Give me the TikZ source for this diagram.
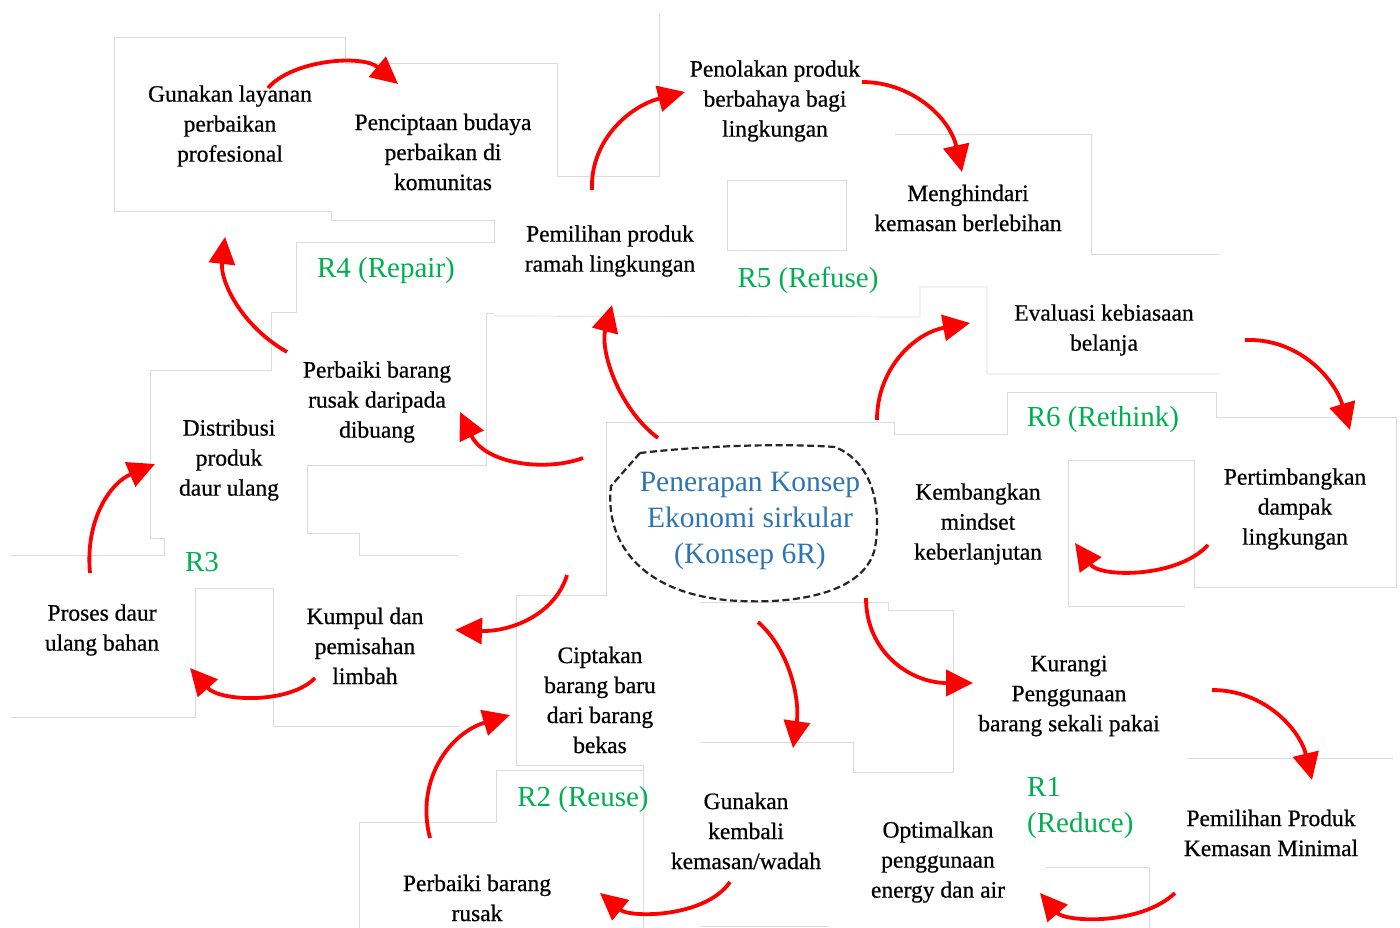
\documentclass[tikz,border=0pt]{standalone}
\usepackage{fontspec}
\setmainfont{Liberation Serif}
\newfontfamily\heavyserif{Liberation Serif}[FakeBold=0.6]
\usetikzlibrary{arrows.meta}
\definecolor{rgreen}{HTML}{00B050}
\definecolor{cblue}{HTML}{2E75B6}
\begin{document}
\begin{tikzpicture}[x=1pt,y=-1pt,
  txt/.style={align=center, font=\heavyserif\fontsize{23.5}{30}\selectfont, inner sep=0pt},
  rlab/.style={text=rgreen, font=\fontsize{29}{36}\selectfont, inner sep=0pt, align=left},
  ctr/.style={text=cblue, align=center, font=\fontsize{29.5}{36}\selectfont, inner sep=0pt},
  rarrow/.style={draw=red, line width=3.8pt, -{Triangle[length=27pt,width=26pt]}},
  ghost/.style={draw=black!14, line width=0.7pt},
  blob/.style={draw=black!85, line width=2.2pt, dash pattern=on 7pt off 3.5pt}]
\useasboundingbox (0,0) rectangle (1400,928);
\fill[white] (0,0) rectangle (1400,928);

% faint box outlines
\draw[ghost] (114,211) -- (114,37) -- (345,37) -- (345,63) -- (557,63) -- (557,176) -- (659,176) -- (659,14);
\draw[ghost] (114,211) -- (331,211) -- (331,220) -- (494,220) -- (494,242) -- (296,242) -- (296,312) -- (271,312) -- (271,370) -- (150,370) -- (150,538) -- (164,538) -- (164,555) -- (11,555);
\draw[ghost] (494,313) -- (486,313) -- (486,465) -- (307,465) -- (307,533) -- (359,533) -- (359,555) -- (458,555);
\draw[ghost] (494,316) -- (920,317) -- (920,287) -- (987,287) -- (987,374) -- (1220,374);
\draw[ghost] (727,180) rectangle (846,250);
\draw[ghost] (895,134) -- (1091,134) -- (1091,254) -- (1220,254);
\draw[ghost] (516,765) -- (516,595) -- (606,595) -- (606,422) -- (894,422) -- (894,434) -- (1007,434) -- (1007,392) -- (1216,392) -- (1216,417) -- (1396,417) -- (1396,587) -- (1194,587) -- (1194,460) -- (1068,460) -- (1068,606) -- (1185,606);
\draw[ghost] (700,602) -- (888,602) -- (888,610) -- (953,610) -- (953,772) -- (853,772) -- (853,742) -- (700,742);
\draw[ghost] (516,765) -- (643,765) -- (643,928);
\draw[ghost] (359,928) -- (359,822) -- (496,822) -- (496,770) -- (643,770);
\draw[ghost] (11,717) -- (195,717) -- (195,588) -- (273,588) -- (273,726) -- (460,726);
\draw[ghost] (700,926) -- (829,926);
\draw[ghost] (1046,867) -- (1149,867) -- (1149,928);
\draw[ghost] (1187,758) -- (1393,758);

% centre
\draw[blob] (640,453) -- (611,486) .. controls (604,545) and (645,597) .. (740,601)
  .. controls (810,604) and (866,588) .. (875,548) .. controls (882,505) and (872,462) .. (835,447)
  .. controls (780,443) and (700,446) .. (640,453) -- cycle;
\node[ctr] (c) at (750,521) {Penerapan Konsep\\Ekonomi sirkular\\(Konsep 6R)};

% texts
\node[txt] (gl) at (230,126) {Gunakan layanan\\perbaikan\\profesional};
\node[txt] (pb) at (443,152) {Penciptaan budaya\\perbaikan di\\komunitas};
\node[txt] (pp) at (775,101) {Penolakan produk\\berbahaya bagi\\lingkungan};
\node[txt] (mk) at (968,208) {Menghindari\\kemasan berlebihan};
\node[txt] (pr) at (610,251) {Pemilihan produk\\ramah lingkungan};
\node[txt] (ev) at (1104,330) {Evaluasi kebiasaan\\belanja};
\node[txt] (pd) at (377,402) {Perbaiki barang\\rusak daripada\\dibuang};
\node[txt] (dp) at (229,460) {Distribusi\\produk\\daur ulang};
\node[txt] (km) at (978,524) {Kembangkan\\mindset\\keberlanjutan};
\node[txt] (pt) at (1295,509) {Pertimbangkan\\dampak\\lingkungan};
\node[txt] (pu) at (102,630) {Proses daur\\ulang bahan};
\node[txt] (kp) at (365,646) {Kumpul dan\\pemisahan\\limbah};
\node[txt] (cb) at (600,700) {Ciptakan\\barang baru\\dari barang\\bekas};
\node[txt] (kg) at (1069,696) {Kurangi\\Penggunaan\\barang sekali pakai};
\node[txt] (gk) at (746,831) {Gunakan\\kembali\\kemasan/wadah};
\node[txt] (oe) at (938,862) {Optimalkan\\penggunaan\\energy dan air};
\node[txt] (pm) at (1271,833) {Pemilihan Produk\\Kemasan Minimal};
\node[txt] (pk) at (477,898) {Perbaiki barang\\rusak};

% R labels
\node[rlab] (r4) at (386,271) {R4 (Repair)};
\node[rlab] (r5) at (808,280) {R5 (Refuse)};
\node[rlab] (r6) at (1103,420) {R6 (Rethink)};
\node[rlab] (r3) at (202,562) {R3};
\node[rlab] (r2) at (583,800) {R2 (Reuse)};
\node[rlab, anchor=west] (r1) at (1027,808) {R1\\(Reduce)};

% arrow end points
\coordinate (s1) at (268,88);   \coordinate (e1) at (398,84);
\coordinate (s2) at (592,190);  \coordinate (e2) at (685,92);
\coordinate (s3) at (862,82);   \coordinate (e3) at (962,172);
\coordinate (s4) at (658,438);  \coordinate (e4) at (612,305);
\coordinate (s5) at (583,458);  \coordinate (e5) at (460,412);
\coordinate (s6) at (287,352);  \coordinate (e6) at (225,237);
\coordinate (s7) at (877,420);  \coordinate (e7) at (970,323);
\coordinate (s8) at (1245,340); \coordinate (e8) at (1350,430);
\coordinate (s9) at (1208,545); \coordinate (e9) at (1075,543);
\coordinate (s10) at (90,573);  \coordinate (e10) at (155,464);
\coordinate (s11) at (567,575); \coordinate (e11) at (455,630);
\coordinate (s12) at (315,678); \coordinate (e12) at (190,668);
\coordinate (s13) at (758,622); \coordinate (e13) at (793,748);
\coordinate (s14) at (866,598); \coordinate (e14) at (973,683);
\coordinate (s15) at (1212,690);\coordinate (e15) at (1312,780);
\coordinate (s16) at (430,838); \coordinate (e16) at (510,715);
\coordinate (s17) at (730,882); \coordinate (e17) at (600,893);
\coordinate (s18) at (1175,893);\coordinate (e18) at (1040,893);

\draw[rarrow] (s1) .. controls (292,60) and (362,54) .. (e1);
\draw[rarrow] (s2) .. controls (590,140) and (630,106) .. (e2);
\draw[rarrow] (s3) .. controls (912,82) and (950,118) .. (e3);
\draw[rarrow] (s4) .. controls (618,408) and (600,350) .. (e4);
\draw[rarrow] (s5) .. controls (545,472) and (485,464) .. (e5);
\draw[rarrow] (s6) .. controls (240,325) and (220,280) .. (e6);
\draw[rarrow] (s7) .. controls (877,368) and (915,333) .. (e7);
\draw[rarrow] (s8) .. controls (1300,338) and (1335,380) .. (e8);
\draw[rarrow] (s9) .. controls (1178,578) and (1100,578) .. (e9);
\draw[rarrow] (s10) .. controls (85,520) and (110,483) .. (e10);
\draw[rarrow] (s11) .. controls (555,615) and (510,632) .. (e11);
\draw[rarrow] (s12) .. controls (290,704) and (220,702) .. (e12);
\draw[rarrow] (s13) .. controls (790,650) and (800,700) .. (e13);
\draw[rarrow] (s14) .. controls (866,652) and (910,683) .. (e14);
\draw[rarrow] (s15) .. controls (1265,690) and (1300,730) .. (e15);
\draw[rarrow] (s16) .. controls (415,780) and (450,733) .. (e16);
\draw[rarrow] (s17) .. controls (705,918) and (630,918) .. (e17);
\draw[rarrow] (s18) .. controls (1140,926) and (1065,922) .. (e18);
\end{tikzpicture}
\end{document}
